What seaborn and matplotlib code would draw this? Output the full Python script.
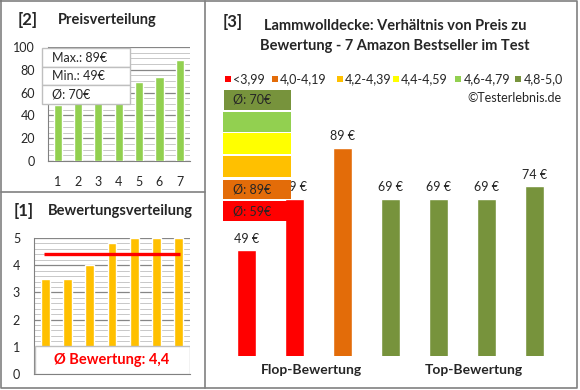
import matplotlib.pyplot as plt
import seaborn as sns
from matplotlib.patches import Rectangle
from matplotlib.lines import Line2D
from matplotlib.ticker import MultipleLocator

# data
products = ["1", "2", "3", "4", "5", "6", "7"]
prices = [49, 69, 89, 69, 69, 69, 74]
ratings = [3.5, 3.5, 4.0, 4.8, 5.0, 5.0, 5.0]
avg_rating = 4.4
price_stats = ["Max.: 89€", "Min.: 49€", "Ø: 70€"]
bands = ["<3,99", "4,0-4,19", "4,2-4,39", "4,4-4,59", "4,6-4,79", "4,8-5,0"]
band_avgs = ["Ø: 59€", "Ø: 89€", "", "", "", "Ø: 70€"]
group_labels = ["Flop-Bewertung", "Top-Bewertung"]

band_colors = ["#FF0000", "#E36C09", "#FFC000", "#FFFF00", "#92D050", "#77933C"]


def band_of(r):
    if r < 4.0:
        return bands[0]
    if r < 4.2:
        return bands[1]
    if r < 4.4:
        return bands[2]
    if r < 4.6:
        return bands[3]
    if r < 4.8:
        return bands[4]
    return bands[5]


sns.set_style("white")
plt.rcParams["font.family"] = ["Lato", "DejaVu Sans"]

W, H = 580, 390
fig = plt.figure(figsize=(5.8, 3.9), dpi=100)


def fx(x):
    return x / W


def fy(y):
    return 1 - y / H


def rect(x0, y0, x1, y1):
    return [x0 / W, 1 - y1 / H, (x1 - x0) / W, (y1 - y0) / H]


grey = "#808080"

# panel borders
for xs, ys in [([1, 577, 577, 1, 1], [1, 1, 388, 388, 1]), ([205, 205], [1, 388]), ([1, 205], [192, 192])]:
    fig.add_artist(Line2D([fx(x) for x in xs], [fy(y) for y in ys], color=grey, lw=1.2))

# [2] Preisverteilung
ax2 = fig.add_axes(rect(47.5, 47, 190, 161))
sns.barplot(x=products, y=sorted(prices), color="#92D050", saturation=1, width=0.4, ax=ax2, zorder=3)
ax2.set_ylim(0, 100)
ax2.yaxis.set_major_locator(MultipleLocator(20))
ax2.yaxis.set_minor_locator(MultipleLocator(5))
ax2.grid(axis="y", which="major", color="#868686", lw=0.9, zorder=0)
ax2.grid(axis="y", which="minor", color="#C8C8C8", lw=0.7, zorder=0)
ax2.set_axisbelow(True)
ax2.set_xlabel("")
ax2.set_ylabel("")
for s in ["top", "right"]:
    ax2.spines[s].set_visible(False)
for s in ["left", "bottom"]:
    ax2.spines[s].set_color(grey)
ax2.tick_params(axis="y", which="major", length=3, color=grey, labelsize=9, pad=6)
ax2.tick_params(axis="y", which="minor", length=0)
ax2.tick_params(axis="x", length=0, labelsize=9, pad=11)

fig.text(fx(27.5), fy(20), "[2]", fontsize=12, fontweight="bold", ha="center", va="center")
fig.text(fx(58), fy(20), "Preisverteilung", fontsize=10.5, fontweight="bold", ha="left", va="center")

# price stats box
box_y = [48, 67, 85, 104]
for i, label in enumerate(price_stats):
    fig.add_artist(Rectangle((fx(42), fy(box_y[i + 1])), (130 - 42) / W, (box_y[i + 1] - box_y[i]) / H,
                             facecolor="white", edgecolor="#BFBFBF", lw=1, zorder=5))
    fig.text(fx(52), fy((box_y[i] + box_y[i + 1]) / 2), label, fontsize=9, va="center", zorder=6)

# [1] Bewertungsverteilung
ax1 = fig.add_axes(rect(34, 238, 190, 374))
sns.barplot(x=products, y=sorted(ratings), color="#FFC000", saturation=1, width=0.4, ax=ax1, zorder=3)
ax1.set_ylim(0, 5)
ax1.yaxis.set_major_locator(MultipleLocator(1))
ax1.yaxis.set_minor_locator(MultipleLocator(0.2))
ax1.grid(axis="y", which="major", color="#868686", lw=0.9, zorder=0)
ax1.grid(axis="y", which="minor", color="#C8C8C8", lw=0.7, zorder=0)
ax1.set_axisbelow(True)
ax1.hlines(avg_rating, -0.05, 6.05, color="#FF0000", lw=2.4, zorder=4)
ax1.set_xlabel("")
ax1.set_ylabel("")
ax1.set_xticks([])
for s in ["top", "right"]:
    ax1.spines[s].set_visible(False)
for s in ["left", "bottom"]:
    ax1.spines[s].set_color(grey)
ax1.tick_params(axis="y", which="major", length=3, color=grey, labelsize=9, pad=7)
ax1.tick_params(axis="y", which="minor", length=0)
ax1.add_patch(Rectangle((0.005, 0), 0.995, 0.208, transform=ax1.transAxes,
                        facecolor="white", edgecolor="#BFBFBF", lw=1, zorder=5))
ax1.text(0.5, 0.105, "Ø Bewertung: " + str(avg_rating).replace(".", ","), transform=ax1.transAxes,
         color="#FF0000", fontsize=10.5, fontweight="bold", ha="center", va="center", zorder=6)

fig.text(fx(23.5), fy(211), "[1]", fontsize=12, fontweight="bold", ha="center", va="center")
fig.text(fx(48), fy(211), "Bewertungsverteilung", fontsize=10.5, fontweight="bold", ha="left", va="center")

# [3] main chart
ax3 = fig.add_axes(rect(222.2, 100, 558.5, 355.7))
hue = [band_of(r) for r in ratings]
sns.barplot(x=products, y=prices, hue=hue, hue_order=bands, palette=dict(zip(bands, band_colors)),
            saturation=1, dodge=False, width=0.4, legend=False, ax=ax3)
ax3.set_ylim(7.7, 107.7)
ax3.set_xlim(-0.5, 6.5)
ax3.axis("off")
for c in ax3.containers:
    ax3.bar_label(c, labels=[f"{v:.0f} €" if v > 0 else "" for v in c.datavalues], padding=4, fontsize=9)

fig.text(fx(232.7), fy(21.7), "[3]", fontsize=12, fontweight="bold", ha="center", va="center")
fig.text(fx(395), fy(26), "Lammwolldecke: Verhältnis von Preis zu", fontsize=10.5, fontweight="bold",
         ha="center", va="center")
fig.text(fx(395), fy(46), "Bewertung - 7 Amazon Bestseller im Test", fontsize=10.5, fontweight="bold",
         ha="center", va="center")

# legend row
sq_x = [225, 271.7, 336.7, 392.7, 455, 515]
for x, label, col in zip(sq_x, bands, band_colors):
    fig.add_artist(Rectangle((fx(x), fy(82)), 6 / W, 6 / H, facecolor=col, edgecolor="none"))
    fig.text(fx(x + 8.5), fy(79), label, fontsize=9, va="center")

fig.text(fx(561.7), fy(98), "©Testerlebnis.de", fontsize=9, ha="right", va="center")

# colored band boxes (average price per rating band)
rows = [(201, 221, 0), (180, 199, 1), (155.7, 176.7, 2), (133, 154, 3), (111.7, 131.7, 4), (90, 110, 5)]
for y0, y1, i in rows:
    x0 = 224 if i == 5 else 222.7
    fig.add_artist(Rectangle((fx(x0), fy(y1)), (291 - x0) / W, (y1 - y0) / H,
                             facecolor=band_colors[i], edgecolor="none", zorder=5))
    if band_avgs[i]:
        fig.text(fx(233), fy((y0 + y1) / 2), band_avgs[i], fontsize=9, va="center", zorder=6)

for x, label in zip([311.7, 474], group_labels):
    fig.text(fx(x), fy(370), label, fontsize=10, fontweight="bold", ha="center", va="center")

fig.savefig("out.png", dpi=100)
